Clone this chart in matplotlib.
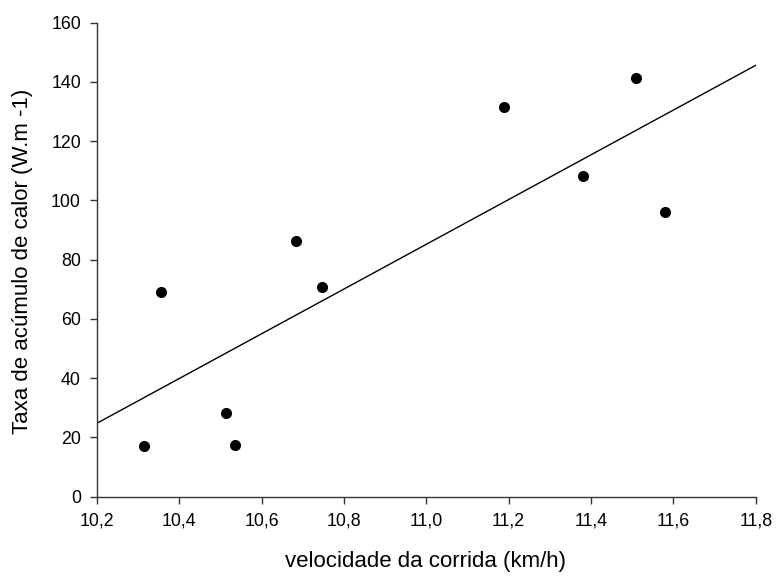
import matplotlib
matplotlib.use("Agg")
import matplotlib.pyplot as plt

plt.rcParams['font.family'] = ['Liberation Sans', 'DejaVu Sans']

velocidade = [10.314, 10.356, 10.513, 10.536, 10.684, 10.747, 11.189, 11.380, 11.509, 11.580]
taxa = [17.1, 69.2, 28.4, 17.4, 86.4, 70.7, 131.5, 108.1, 141.2, 96.0]
fit_x = [10.2, 11.8]
fit_y = [24.8, 145.6]

x_ticks = [10.2, 10.4, 10.6, 10.8, 11.0, 11.2, 11.4, 11.6, 11.8]
x_ticklabels = ['10,2', '10,4', '10,6', '10,8', '11,0', '11,2', '11,4', '11,6', '11,8']
y_ticks = [0, 20, 40, 60, 80, 100, 120, 140, 160]

fig = plt.figure(figsize=(7.77, 5.77), dpi=100)
ax = fig.add_axes([0.1248, 0.1392, 0.8478, 0.8215])

ax.plot(fit_x, fit_y, color='black', linewidth=1.0, zorder=2)
ax.scatter(velocidade, taxa, s=64, color='black', zorder=3, linewidths=0)

ax.set_xlim(10.2, 11.8)
ax.set_ylim(0, 160)
ax.set_xticks(x_ticks)
ax.set_xticklabels(x_ticklabels)
ax.set_yticks(y_ticks)

for s in ['top', 'right']:
    ax.spines[s].set_visible(False)
for s in ['left', 'bottom']:
    ax.spines[s].set_color('#333333')
    ax.spines[s].set_linewidth(1.0)

ax.tick_params(direction='out', length=5, width=1, color='#333333', labelsize=12.8)
ax.tick_params(axis='x', pad=6.5)
ax.tick_params(axis='y', pad=6.5)

fig.text(0.5476, 0.026, 'velocidade da corrida (km/h)', fontsize=16,
         ha='center', va='center')
fig.text(0.0296, 0.5477, 'Taxa de acúmulo de calor (W.m -1)', fontsize=16,
         ha='center', va='center', rotation=90)

fig.savefig('out.png', dpi=100)
